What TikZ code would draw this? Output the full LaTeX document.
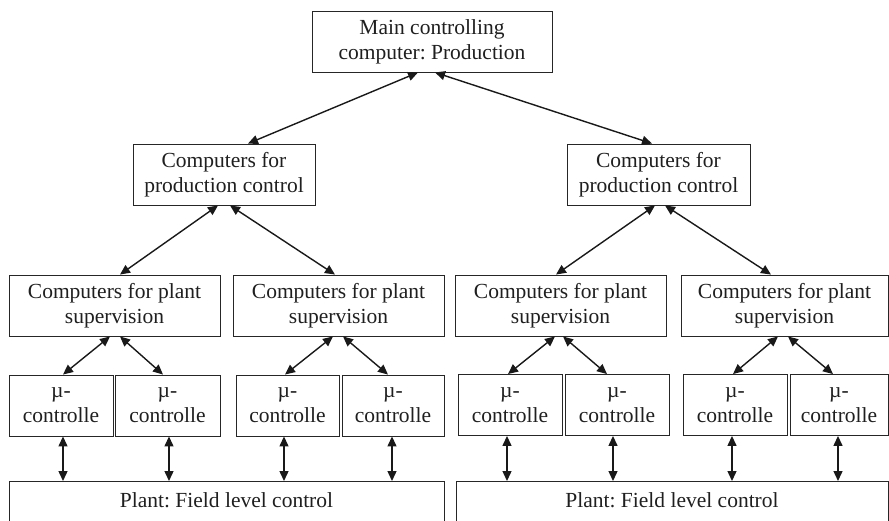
\documentclass[tikz,border=0pt]{standalone}
\usepackage{fontspec}
\setmainfont{Liberation Serif}
\frenchspacing
\usetikzlibrary{arrows.meta,calc}
\tikzset{
  box/.style={draw=black!85, line width=0.9pt, minimum height=61pt, inner sep=0pt, align=center, text=black!88, font=\fontsize{21.5}{25}\selectfont},
  lbl/.style={inner sep=0pt, align=center, text=black!88, font=\fontsize{21.5}{25}\selectfont},
  link/.style={line width=1.4pt, black!90, {Triangle[length=10pt,width=9pt]}-{Triangle[length=10pt,width=9pt]}}
}
\begin{document}
\begin{tikzpicture}[x=1pt,y=-1pt]
\useasboundingbox (0,0) rectangle (889,520);
% top
\node[box, minimum width=240pt] (top) at (432,41.5) {Main controlling\\computer: Production};
% production control
\node[box, minimum width=182pt] (prodL) at (224,174.5) {Computers for\\production control};
\node[box, minimum width=183pt] (prodR) at (658.5,174.5) {Computers for\\production control};
% supervision
\node[box, minimum width=211pt] (supA) at (114.5,305.5) {Computers for plant\\supervision};
\node[box, minimum width=211pt] (supB) at (338.5,305.5) {Computers for plant\\supervision};
\node[box, minimum width=211pt] (supC) at (560.5,305.5) {Computers for plant\\supervision};
\node[box, minimum width=207pt] (supD) at (784.5,305.5) {Computers for plant\\supervision};
% micro controllers
\node[box, minimum width=104pt] (m1) at (61,405.5) {µ-\\controlle};
\node[box, minimum width=105pt] (m2) at (167.5,405.5) {µ-\\controlle};
\node[box, minimum width=103pt] (m3) at (287.5,405.5) {µ-\\controlle};
\node[box, minimum width=102pt] (m4) at (393,405.5) {µ-\\controlle};
\node[box, minimum width=104pt] (m5) at (510,405) {µ-\\controlle};
\node[box, minimum width=104pt] (m6) at (617,405) {µ-\\controlle};
\node[box, minimum width=104pt] (m7) at (735,405) {µ-\\controlle};
\node[box, minimum width=98pt] (m8) at (839,405) {µ-\\controlle};
% plant
\node[box, minimum width=435pt, minimum height=60pt, anchor=north] (plantL) at (226.5,481) {};
\node[box, minimum width=432pt, minimum height=60pt, anchor=north] (plantR) at (672,481) {};
\node[lbl] (plantLt) at (226.5,500.5) {Plant: Field level control};
\node[lbl] (plantRt) at (672,500.5) {Plant: Field level control};
% links top
\draw[link] ($(top.south)+(-14,0)$) -- ($(prodL.north)+(24,0)$);
\draw[link] ($(top.south)+(3,0)$) -- ($(prodR.north)+(-6.5,0)$);
% production -> supervision
\draw[link] ($(prodL.south)+(-6,0)$) -- ($(supA.north)+(5.5,0)$);
\draw[link] ($(prodL.south)+(6,0)$) -- ($(supB.north)+(-3.5,0)$);
\draw[link] ($(prodR.south)+(-3.5,0)$) -- ($(supC.north)+(-4.5,0)$);
\draw[link] ($(prodR.south)+(6.5,0)$) -- ($(supD.north)+(-13.5,0)$);
% supervision -> micro
\draw[link] ($(supA.south)+(-4.5,0)$) -- ($(m1.north)+(2,0)$);
\draw[link] ($(supA.south)+(5.5,0)$) -- ($(m2.north)+(-4.5,0)$);
\draw[link] ($(supB.south)+(-5.5,0)$) -- ($(m3.north)+(-2.5,0)$);
\draw[link] ($(supB.south)+(4.5,0)$) -- ($(m4.north)+(-5,0)$);
\draw[link] ($(supC.south)+(-5.5,0)$) -- ($(m5.north)+(-2,0)$);
\draw[link] ($(supC.south)+(2.5,0)$) -- ($(m6.north)+(-10,0)$);
\draw[link] ($(supD.south)+(-6.5,0)$) -- ($(m7.north)+(-2,0)$);
\draw[link] ($(supD.south)+(3.5,0)$) -- ($(m8.north)+(-6,0)$);
% micro -> plant
\coordinate (v1) at ($(m1.south)+(2,0)$);
\coordinate (v2) at ($(m2.south)+(1.5,0)$);
\coordinate (v3) at ($(m3.south)+(-3.5,0)$);
\coordinate (v4) at ($(m4.south)+(-1,0)$);
\coordinate (v5) at ($(m5.south)+(-3,0)$);
\coordinate (v6) at ($(m6.south)+(-4,0)$);
\coordinate (v7) at ($(m7.south)+(-3,0)$);
\coordinate (v8) at ($(m8.south)+(-1,0)$);
\draw[link] (v1) -- (v1 |- plantL.north);
\draw[link] (v2) -- (v2 |- plantL.north);
\draw[link] (v3) -- (v3 |- plantL.north);
\draw[link] (v4) -- (v4 |- plantL.north);
\draw[link] (v5) -- (v5 |- plantR.north);
\draw[link] (v6) -- (v6 |- plantR.north);
\draw[link] (v7) -- (v7 |- plantR.north);
\draw[link] (v8) -- (v8 |- plantR.north);
\end{tikzpicture}
\end{document}
